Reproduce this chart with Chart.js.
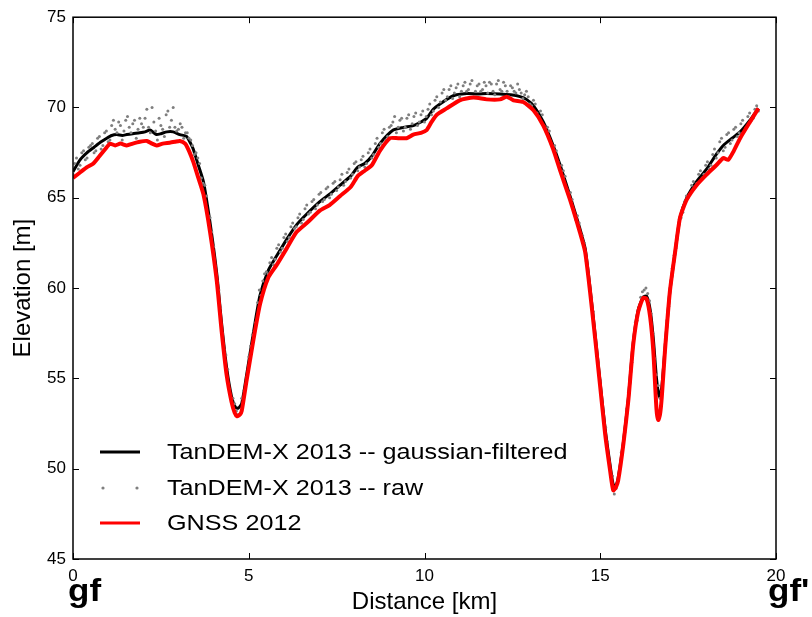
<!DOCTYPE html>
<html>
<head>
<meta charset="utf-8">
<script src="https://cdn.jsdelivr.net/npm/chart.js@4.4.1/dist/chart.umd.min.js"></script>
<style>
html,body{margin:0;padding:0;background:#fff;}
#wrap{position:relative;width:812px;height:617px;}
</style>
</head>
<body>
<div id="wrap"><canvas id="c" width="812" height="617"></canvas></div>
<script>
// ---- data (km, m) ----
const tdxKm = [0.0,0.2,0.4,0.6,0.8,0.96,1.1,1.24,1.4,1.53,1.7,1.9,2.05,2.19,2.3,2.38,2.5,2.67,2.85,3.04,3.23,3.35,3.42,3.55,3.71,3.9,4.09,4.23,4.37,4.51,4.62,4.7,4.8,4.94,5.13,5.32,5.56,5.8,6.08,6.36,6.65,7.03,7.3,7.6,7.9,8.1,8.3,8.5,8.73,9.11,9.4,9.68,9.9,10.06,10.25,10.44,10.82,11.2,11.5,11.77,12.15,12.45,12.72,12.9,13.1,13.38,13.66,13.86,14.14,14.42,14.57,14.71,14.85,14.99,15.14,15.28,15.37,15.45,15.51,15.66,15.8,15.94,16.08,16.22,16.32,16.42,16.51,16.6,16.68,16.75,16.84,16.98,17.13,17.27,17.46,17.74,18.03,18.3,18.5,18.75,18.98,19.26,19.5];
const tdxElev = [66.45,67.1,67.5,67.8,68.1,68.3,68.45,68.5,68.45,68.5,68.55,68.6,68.65,68.75,68.6,68.5,68.55,68.65,68.65,68.5,68.4,68.0,67.7,66.9,65.9,63.6,60.8,58.0,55.6,54.0,53.4,53.35,53.6,55.2,57.5,59.6,61.0,61.8,62.7,63.5,64.1,64.8,65.2,65.7,66.2,66.7,66.9,67.3,68.0,68.75,68.9,69.0,69.2,69.4,69.9,70.2,70.65,70.77,70.75,70.77,70.75,70.7,70.6,70.45,70.1,69.2,67.9,66.8,65.1,63.3,62.2,60.0,57.5,54.9,52.2,50.2,49.1,49.1,49.5,51.5,53.9,57.0,58.8,59.5,59.55,58.8,57.2,55.0,54.0,54.5,56.6,59.8,62.0,63.9,65.0,65.9,66.6,67.4,67.9,68.3,68.65,69.3,69.95];

const gnssKm = [0.0,0.2,0.4,0.58,0.75,0.96,1.05,1.2,1.35,1.53,1.7,1.9,2.1,2.25,2.38,2.55,2.75,2.9,3.04,3.19,3.3,3.42,3.55,3.71,3.9,4.09,4.23,4.37,4.51,4.6,4.67,4.75,4.8,4.94,5.13,5.32,5.56,5.8,6.08,6.36,6.65,7.03,7.3,7.6,7.9,8.1,8.3,8.5,8.73,9.02,9.25,9.49,9.68,9.9,10.06,10.2,10.35,10.63,11.0,11.39,11.77,12.15,12.34,12.53,12.81,13.1,13.38,13.66,13.86,14.14,14.42,14.57,14.71,14.85,14.99,15.14,15.28,15.37,15.45,15.51,15.66,15.8,15.94,16.08,16.22,16.32,16.42,16.51,16.6,16.65,16.7,16.75,16.84,16.98,17.13,17.27,17.46,17.74,18.03,18.3,18.5,18.64,18.8,18.98,19.26,19.5];
const gnssElev = [66.1,66.4,66.7,66.9,67.3,67.8,68.0,67.9,68.0,67.9,68.0,68.1,68.15,68.0,67.9,68.0,68.05,68.1,68.15,68.0,67.6,67.0,66.2,65.2,63.1,60.4,57.6,55.2,53.7,53.1,52.9,53.0,53.2,54.9,57.1,59.1,60.6,61.3,62.2,63.1,63.6,64.3,64.6,65.1,65.6,66.2,66.5,66.8,67.6,68.3,68.3,68.3,68.5,68.6,68.75,69.2,69.6,69.95,70.4,70.55,70.45,70.45,70.6,70.4,70.3,69.85,69.0,67.7,66.5,64.9,63.1,62.0,59.8,57.3,54.7,51.9,49.9,48.8,49.0,49.35,51.4,53.8,56.9,58.7,59.45,59.4,58.4,56.5,53.3,52.7,53.0,53.95,56.5,59.8,62.0,63.9,64.9,65.7,66.3,66.8,67.2,67.1,67.6,68.3,69.2,69.95];

const rawKm = [0.0,0.1,0.2,0.3,0.4,0.5,0.6,0.7,0.8,0.9,1.0,1.1,1.2,1.3,1.4,1.5,1.6,1.7,1.8,1.9,2.0,2.1,2.2,2.3,2.4,2.5,2.6,2.7,2.8,2.9,3.0,3.1,3.2,3.3,3.4,3.5,3.6,3.7,3.8,3.9,4.0,4.1,4.2,4.3,4.4,4.5,4.6,4.7,4.8,4.9,5.0,5.1,5.2,5.3,5.4,5.5,5.6,5.7,5.8,5.9,6.0,6.1,6.2,6.3,6.4,6.5,6.6,6.7,6.8,6.9,7.0,7.1,7.2,7.3,7.4,7.5,7.6,7.7,7.8,7.9,8.0,8.1,8.2,8.3,8.4,8.5,8.6,8.7,8.8,8.9,9.0,9.1,9.2,9.3,9.4,9.5,9.6,9.7,9.8,9.9,10.0,10.1,10.2,10.3,10.4,10.5,10.6,10.7,10.8,10.9,11.0,11.1,11.2,11.3,11.4,11.5,11.6,11.7,11.8,11.9,12.0,12.1,12.2,12.3,12.4,12.5,12.6,12.7,12.8,12.9,13.0,13.1,13.2,13.3,13.4,13.5,13.6,13.7,13.8,13.9,14.0,14.1,14.2,14.3,14.4,14.5,14.6,14.7,14.8,14.9,15.0,15.1,15.2,15.3,15.4,15.5,15.6,15.7,15.8,15.9,16.0,16.1,16.2,16.3,16.4,16.5,16.6,16.7,16.8,16.9,17.0,17.1,17.2,17.3,17.4,17.5,17.6,17.7,17.8,17.9,18.0,18.1,18.2,18.3,18.4,18.5,18.6,18.7,18.8,18.9,19.0,19.1,19.2,19.3,19.4,19.5];
const rawElev = [66.3,67.2,66.8,67.6,67.2,67.9,67.5,68.3,67.7,68.6,68.1,69.0,68.8,69.2,68.2,69.3,68.9,69.1,68.3,69.4,68.9,69.9,68.6,69.2,68.2,69.0,68.4,69.8,69.3,68.9,68.8,68.9,68.6,68.3,67.9,67.5,66.9,65.8,65.1,63.9,62.3,60.4,58.9,56.6,55.5,53.9,53.6,53.0,53.9,54.6,56.2,57.4,58.1,59.9,60.4,60.9,61.4,61.3,62.2,62.0,62.8,62.6,63.4,63.3,63.9,63.6,64.4,64.1,64.8,64.4,65.2,64.8,65.5,65.0,65.8,65.4,66.0,65.7,66.4,66.1,66.9,66.5,67.1,66.7,67.5,67.2,68.0,67.8,68.6,68.2,68.9,69.2,68.6,69.3,68.7,69.4,68.8,69.5,69.0,69.6,69.2,69.9,69.6,70.4,70.0,70.8,70.4,71.0,70.5,71.1,70.6,71.2,70.9,71.3,70.6,71.2,70.9,71.4,70.8,71.3,70.7,71.5,70.9,71.2,70.6,71.1,70.8,71.0,70.5,70.9,70.2,70.4,69.7,69.8,69.0,68.9,68.0,67.9,67.0,66.8,66.2,65.2,64.9,63.8,63.6,62.9,61.5,60.0,58.7,56.3,54.9,52.7,51.5,49.6,48.6,49.3,50.9,52.0,54.2,55.9,58.1,58.8,59.8,60.0,59.3,57.5,55.2,53.9,55.5,58.2,60.0,61.8,63.1,63.9,64.8,65.0,65.7,65.6,66.3,66.1,66.8,66.6,67.4,67.2,68.1,67.6,68.5,68.0,68.8,68.4,69.1,68.7,69.5,69.3,69.9,69.8];
const rawKmB = [0.05,0.15,0.25,0.35,0.45,0.55,0.65,0.75,0.85,0.95,1.05,1.15,1.25,1.35,1.45,1.55,1.65,1.75,1.85,1.95,2.05,2.15,2.25,2.35,2.45,2.55,2.65,2.75,2.85,2.95,3.05,3.15,3.25,3.35,3.45,3.55,3.65,3.75,3.85,3.95,4.05,4.15,4.25,4.35,4.45,4.55,4.65,4.75,4.85,4.95,5.05,5.15,5.25,5.35,5.45,5.55,5.65,5.75,5.85,5.95,6.05,6.15,6.25,6.35,6.45,6.55,6.65,6.75,6.85,6.95,7.05,7.15,7.25,7.35,7.45,7.55,7.65,7.75,7.85,7.95,8.05,8.15,8.25,8.35,8.45,8.55,8.65,8.75,8.85,8.95,9.05,9.15,9.25,9.35,9.45,9.55,9.65,9.75,9.85,9.95,10.05,10.15,10.25,10.35,10.45,10.55,10.65,10.75,10.85,10.95,11.05,11.15,11.25,11.35,11.45,11.55,11.65,11.75,11.85,11.95,12.05,12.15,12.25,12.35,12.45,12.55,12.65,12.75,12.85,12.95,13.05,13.15,13.25,13.35,13.45,13.55,13.65,13.75,13.85,13.95,14.05,14.15,14.25,14.35,14.45,14.55,14.65,14.75,14.85,14.95,15.05,15.15,15.25,15.35,15.45,15.55,15.65,15.75,15.85,15.95,16.05,16.15,16.25,16.35,16.45,16.55,16.65,16.75,16.85,16.95,17.05,17.15,17.25,17.35,17.45,17.55,17.65,17.75,17.85,17.95,18.05,18.15,18.25,18.35,18.45,18.55,18.65,18.75,18.85,18.95,19.05,19.15,19.25,19.35,19.45];
const rawElevB = [66.9,66.6,67.5,67.1,67.8,68.0,67.6,68.4,67.9,68.7,68.2,69.3,68.6,69.0,68.7,69.5,68.6,69.3,68.8,69.1,69.4,68.9,70.0,68.7,69.4,68.8,69.6,68.9,70.0,68.7,69.1,68.3,68.6,68.2,67.4,67.2,66.1,65.7,64.0,63.1,61.2,59.9,57.5,56.3,54.4,53.9,53.2,53.0,54.3,55.1,56.8,57.6,59.2,59.6,60.8,60.8,61.7,61.6,62.4,62.2,63.0,62.8,63.6,63.4,64.1,63.8,64.6,64.2,64.9,64.6,65.3,64.9,65.6,65.2,65.9,65.6,66.3,65.9,66.6,66.3,67.0,66.7,67.3,66.9,67.7,67.4,68.3,68.0,68.8,68.4,69.0,69.5,68.9,69.4,68.9,69.6,69.1,69.7,69.2,69.8,69.5,70.2,69.8,70.6,70.3,71.0,70.6,71.2,70.8,71.3,70.9,71.4,71.0,71.5,70.9,71.3,71.0,71.2,71.4,70.9,71.3,71.0,71.4,70.9,71.2,70.9,71.3,70.8,70.7,70.6,70.1,70.2,69.5,69.6,68.7,68.7,67.8,67.6,66.6,66.5,65.5,65.3,64.2,64.0,62.9,62.5,60.8,59.5,57.3,55.8,53.6,52.3,50.4,49.6,48.9,50.1,51.2,53.3,54.8,57.2,58.2,59.5,59.9,59.7,58.6,56.1,54.6,54.3,56.9,59.0,61.1,62.2,63.8,64.2,65.1,65.2,65.9,65.8,66.5,66.3,67.0,66.8,67.7,67.5,68.3,67.8,68.6,68.2,68.9,68.6,69.3,68.9,69.7,69.4,70.1];

const seriesLabels = ['TanDEM-X 2013 -- gaussian-filtered', 'TanDEM-X 2013 -- raw', 'GNSS 2012'];
const xRange = [0, 20];
const yRange = [45, 75];
const tickStep = 5;
const endLabels = ['gf', "gf'"];

const pts = (xs, ys) => xs.map((x, i) => ({x: x, y: ys[i]}));
const FONT = '"Liberation Sans", Arial, sans-serif';

const framePlugin = {
  id: 'frame',
  afterDatasetsDraw(chart) {
    const ctx = chart.ctx, a = chart.chartArea;
    const xs = chart.scales.x, ys = chart.scales.y;
    ctx.save();
    ctx.strokeStyle = '#000';
    ctx.lineWidth = 1.5;
    ctx.strokeRect(a.left, a.top, a.right - a.left, a.bottom - a.top);
    ctx.lineWidth = 1;
    const L = 6;
    xs.ticks.forEach(t => {
      const px = Math.round(xs.getPixelForValue(t.value)) + 0.5;
      ctx.beginPath();
      ctx.moveTo(px, a.bottom); ctx.lineTo(px, a.bottom - L);
      ctx.moveTo(px, a.top); ctx.lineTo(px, a.top + L);
      ctx.stroke();
    });
    ys.ticks.forEach(t => {
      const py = Math.round(ys.getPixelForValue(t.value)) + 0.5;
      ctx.beginPath();
      ctx.moveTo(a.left, py); ctx.lineTo(a.left + L, py);
      ctx.moveTo(a.right, py); ctx.lineTo(a.right - L, py);
      ctx.stroke();
    });
    ctx.restore();
  },
  afterDraw(chart) {
    const ctx = chart.ctx, a = chart.chartArea;
    const ds = chart.data.datasets;
    ctx.save();
    // legend
    const rowY = [452, 488, 523];
    const lx0 = a.left + 27, lx1 = a.left + 67, tx = a.left + 94;
    ds.forEach((d, i) => {
      const y = rowY[i];
      if (d.showLine) {
        ctx.strokeStyle = d.borderColor;
        ctx.lineWidth = 3;
        ctx.beginPath(); ctx.moveTo(lx0, y); ctx.lineTo(lx1, y); ctx.stroke();
      } else {
        ctx.fillStyle = d.pointBackgroundColor;
        [lx0 + 3, lx1 - 3].forEach(px => { ctx.beginPath(); ctx.arc(px, y, 1.6, 0, Math.PI * 2); ctx.fill(); });
      }
      ctx.save();
      ctx.translate(tx, y);
      ctx.scale(1.145, 1);
      ctx.fillStyle = '#000';
      ctx.font = '22px ' + FONT;
      ctx.textBaseline = 'middle';
      ctx.textAlign = 'left';
      ctx.fillText(d.label, 0, 1);
      ctx.restore();
    });
    // end labels
    [[a.left - 5, endLabels[0]], [a.right - 8, endLabels[1]]].forEach(([x, s]) => {
      ctx.save();
      ctx.translate(x, 601);
      ctx.scale(1.13, 1);
      ctx.fillStyle = '#000';
      ctx.font = 'bold 31px ' + FONT;
      ctx.textBaseline = 'alphabetic';
      ctx.textAlign = 'left';
      ctx.fillText(s, 0, 0);
      ctx.restore();
    });
    ctx.restore();
  }
};

new Chart(document.getElementById('c'), {
  type: 'scatter',
  data: {
    datasets: [
      {
        label: seriesLabels[0],
        data: pts(tdxKm, tdxElev),
        showLine: true,
        borderColor: '#000000',
        borderWidth: 3,
        pointRadius: 0,
        tension: 0.2,
        order: 3
      },
      {
        label: seriesLabels[1],
        data: pts(rawKm, rawElev).concat(pts(rawKmB, rawElevB)),
        showLine: false,
        pointRadius: 1.5,
        pointBackgroundColor: '#7f7f7f',
        pointBorderWidth: 0,
        borderColor: '#7f7f7f',
        order: 2
      },
      {
        label: seriesLabels[2],
        data: pts(gnssKm, gnssElev),
        showLine: true,
        borderColor: '#ff0000',
        borderWidth: 4,
        pointRadius: 0,
        tension: 0.2,
        order: 1
      }
    ]
  },
  options: {
    responsive: false,
    animation: false,
    events: [],
    layout: { padding: { left: 0, top: 15, right: 36, bottom: 0 } },
    plugins: { legend: { display: false }, tooltip: { enabled: false } },
    scales: {
      x: {
        type: 'linear',
        min: xRange[0], max: xRange[1],
        grid: { display: false, drawTicks: false },
        border: { display: false },
        ticks: { stepSize: tickStep, color: '#000', padding: 7, font: { family: FONT, size: 17 }, maxRotation: 0 },
        title: { display: true, text: 'Distance [km]', color: '#000', font: { family: FONT, size: 24 }, padding: { top: 0, bottom: 0 } },
        afterFit(s) { s.height = 58; }
      },
      y: {
        type: 'linear',
        min: yRange[0], max: yRange[1],
        grid: { display: false, drawTicks: false },
        border: { display: false },
        ticks: { stepSize: tickStep, color: '#000', padding: 7, font: { family: FONT, size: 17 } },
        title: { display: true, text: 'Elevation [m]', color: '#000', font: { family: FONT, size: 24 }, padding: { top: 9, bottom: 0 } },
        afterFit(s) { s.width = 73; }
      }
    }
  },
  plugins: [framePlugin]
});
</script>
</body>
</html>
